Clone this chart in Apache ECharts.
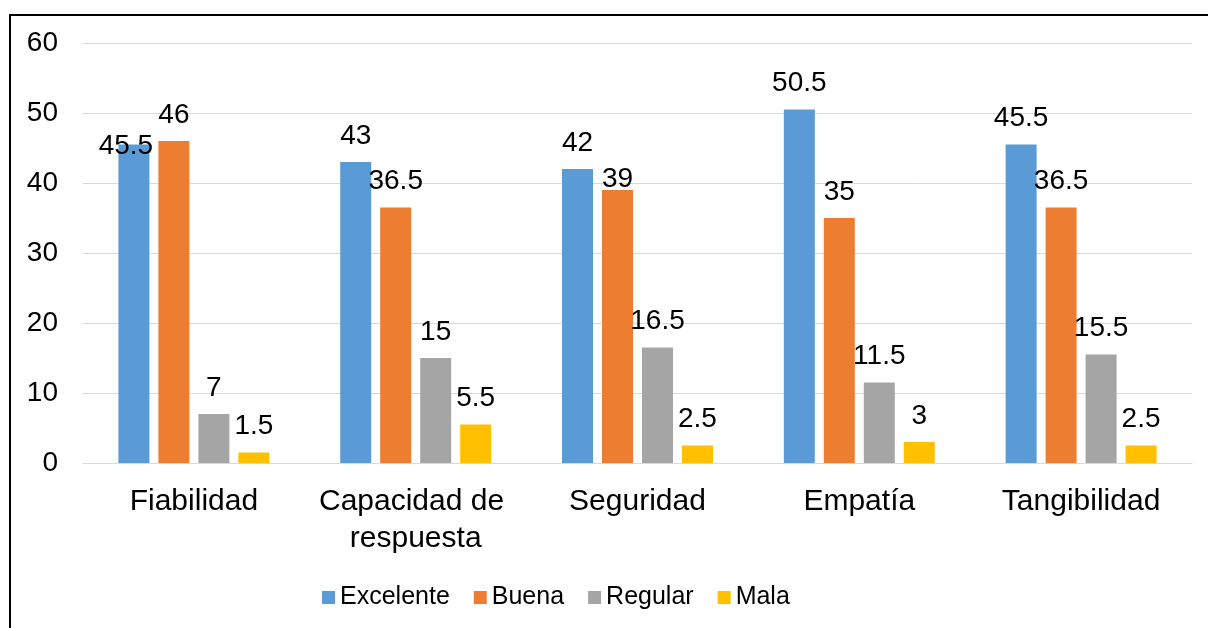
<!DOCTYPE html>
<html>
<head>
<meta charset="utf-8">
<script src="https://cdn.jsdelivr.net/npm/echarts@6/dist/echarts.min.js"></script>
<style>
  html, body { margin: 0; padding: 0; background: #fff; }
  #chart { width: 1208px; height: 628px; }
</style>
</head>
<body>
<div id="chart"></div>
<script>
const categories = ['Fiabilidad', 'Capacidad de respuesta', 'Seguridad', 'Empatía', 'Tangibilidad']
const excelente = [45.5, 43, 42, 50.5, 45.5]
const buena = [46, 36.5, 39, 35, 36.5]
const regular = [7, 15, 16.5, 11.5, 15.5]
const mala = [1.5, 5.5, 2.5, 3, 2.5]
const seriesNames = ['Excelente', 'Buena', 'Regular', 'Mala']
const colors = ['#5B9BD5', '#ED7D31', '#A5A5A5', '#FFC000']

// Excel moved a couple of labels to avoid overlapping neighbours
const labelShift = { '0-0': [-8, 28], '1-2': [0, 15] }

const font = "'Liberation Sans', Arial, sans-serif"
const myChart = echarts.init(document.getElementById('chart'))

const makeSeries = (name, values, si) => ({
  name: name,
  type: 'bar',
  barWidth: 31,
  barGap: '29%',
  itemStyle: { color: colors[si] },
  label: {
    show: true,
    position: 'top',
    distance: 12,
    color: '#000',
    fontSize: 28,
    fontFamily: font
  },
  data: values.map((v, ci) => {
    const shift = labelShift[si + '-' + ci]
    return shift ? { value: v, label: { offset: shift } } : v
  })
})

const option = {
  animation: false,
  textStyle: { fontFamily: font },
  grid: { left: 83, right: 16, top: 43, bottom: 165 },
  legend: {
    data: seriesNames,
    left: 322,
    top: 585,
    padding: 0,
    icon: 'rect',
    itemWidth: 13,
    itemHeight: 13,
    itemGap: 24,
    textStyle: { fontSize: 25, color: '#000', fontFamily: font }
  },
  xAxis: {
    type: 'category',
    data: categories,
    axisLine: { lineStyle: { color: '#d9d9d9', width: 1 } },
    axisTick: { show: false },
    axisLabel: {
      color: '#000',
      fontSize: 30,
      fontFamily: font,
      lineHeight: 37,
      margin: 20,
      width: 212,
      overflow: 'break',
      interval: 0
    }
  },
  yAxis: {
    type: 'value',
    min: 0,
    max: 60,
    interval: 10,
    axisLine: { show: false },
    axisTick: { show: false },
    splitLine: { lineStyle: { color: '#d9d9d9', width: 1 } },
    axisLabel: { color: '#000', fontSize: 28, fontFamily: font, margin: 25 }
  },
  graphic: [{
    type: 'polyline',
    shape: { points: [[10, 640], [10, 15], [1220, 15]] },
    style: { stroke: '#000', lineWidth: 2, fill: null }
  }],
  series: [
    makeSeries(seriesNames[0], excelente, 0),
    makeSeries(seriesNames[1], buena, 1),
    makeSeries(seriesNames[2], regular, 2),
    makeSeries(seriesNames[3], mala, 3)
  ]
}

myChart.setOption(option)
</script>
</body>
</html>
